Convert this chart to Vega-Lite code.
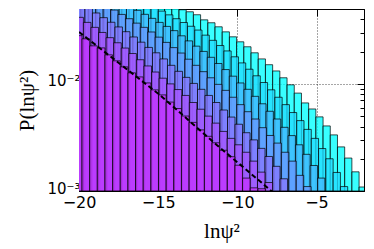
{
"$schema": "https://vega.github.io/schema/vega-lite/v6.json",
"width": 285, "height": 182,
"autosize": {"type": "none"},
"padding": {"left": 79, "top": 9, "right": 10, "bottom": 58},
"config": {"view": {"stroke": "#000", "strokeWidth": 1},
 "axis": {"labelFont": "DejaVu Sans", "labelFontSize": 16, "labelColor": "#000", "tickColor": "#000", "domainColor": "#000", "titleFont": "Liberation Serif", "titleFontSize": 21, "titleFontWeight": "normal", "titleColor": "#000", "labelFlush": false, "labelOverlap": false, "labelBound": false, "gridColor": "#000", "gridDash": [1, 2], "zindex": 1}},
"datasets": {
"bars": [
{"s":"c6","x0":-20.055,"x1":-19.6,"p":0.16},{"s":"c6","x0":-19.6,"x1":-19.145,"p":0.149},{"s":"c6","x0":-19.145,"x1":-18.69,"p":0.137},{"s":"c6","x0":-18.69,"x1":-18.235,"p":0.126},{"s":"c6","x0":-18.235,"x1":-17.78,"p":0.116},{"s":"c6","x0":-17.78,"x1":-17.325,"p":0.107},{"s":"c6","x0":-17.325,"x1":-16.87,"p":0.098},{"s":"c6","x0":-16.87,"x1":-16.415,"p":0.09},{"s":"c6","x0":-16.415,"x1":-15.96,"p":0.083},{"s":"c6","x0":-15.96,"x1":-15.505,"p":0.076},{"s":"c6","x0":-15.505,"x1":-15.05,"p":0.07},{"s":"c6","x0":-15.05,"x1":-14.595,"p":0.064},{"s":"c6","x0":-14.595,"x1":-14.14,"p":0.059},{"s":"c6","x0":-14.14,"x1":-13.685,"p":0.054},{"s":"c6","x0":-13.685,"x1":-13.23,"p":0.0492},{"s":"c6","x0":-13.23,"x1":-12.775,"p":0.0471},{"s":"c6","x0":-12.775,"x1":-12.32,"p":0.0442},{"s":"c6","x0":-12.32,"x1":-11.865,"p":0.0396},{"s":"c6","x0":-11.865,"x1":-11.41,"p":0.0372},{"s":"c6","x0":-11.41,"x1":-10.955,"p":0.0341},{"s":"c6","x0":-10.955,"x1":-10.5,"p":0.0306},{"s":"c6","x0":-10.5,"x1":-10.045,"p":0.0275},{"s":"c6","x0":-10.045,"x1":-9.59,"p":0.0247},{"s":"c6","x0":-9.59,"x1":-9.135,"p":0.0222},{"s":"c6","x0":-9.135,"x1":-8.68,"p":0.0195},{"s":"c6","x0":-8.68,"x1":-8.225,"p":0.0171},{"s":"c6","x0":-8.225,"x1":-7.77,"p":0.0151},{"s":"c6","x0":-7.77,"x1":-7.315,"p":0.0132},{"s":"c6","x0":-7.315,"x1":-6.86,"p":0.0114},{"s":"c6","x0":-6.86,"x1":-6.405,"p":0.0098},{"s":"c6","x0":-6.405,"x1":-5.95,"p":0.0082},{"s":"c6","x0":-5.95,"x1":-5.495,"p":0.00664},{"s":"c6","x0":-5.495,"x1":-5.04,"p":0.00583},{"s":"c6","x0":-5.04,"x1":-4.585,"p":0.00492},{"s":"c6","x0":-4.585,"x1":-4.13,"p":0.00405},{"s":"c6","x0":-4.13,"x1":-3.675,"p":0.00334},{"s":"c6","x0":-3.675,"x1":-3.22,"p":0.00258},{"s":"c6","x0":-3.22,"x1":-2.765,"p":0.00203},{"s":"c6","x0":-2.765,"x1":-2.31,"p":0.00151},{"s":"c6","x0":-2.31,"x1":-1.855,"p":0.00109},
{"s":"c5","x0":-20.05,"x1":-19.59,"p":0.151},{"s":"c5","x0":-19.59,"x1":-19.13,"p":0.136},{"s":"c5","x0":-19.13,"x1":-18.67,"p":0.122},{"s":"c5","x0":-18.67,"x1":-18.21,"p":0.11},{"s":"c5","x0":-18.21,"x1":-17.75,"p":0.0989},{"s":"c5","x0":-17.75,"x1":-17.29,"p":0.0889},{"s":"c5","x0":-17.29,"x1":-16.83,"p":0.08},{"s":"c5","x0":-16.83,"x1":-16.37,"p":0.0719},{"s":"c5","x0":-16.37,"x1":-15.91,"p":0.0647},{"s":"c5","x0":-15.91,"x1":-15.45,"p":0.0582},{"s":"c5","x0":-15.45,"x1":-14.99,"p":0.0524},{"s":"c5","x0":-14.99,"x1":-14.53,"p":0.0478},{"s":"c5","x0":-14.53,"x1":-14.07,"p":0.0441},{"s":"c5","x0":-14.07,"x1":-13.61,"p":0.0406},{"s":"c5","x0":-13.61,"x1":-13.15,"p":0.0374},{"s":"c5","x0":-13.15,"x1":-12.69,"p":0.0345},{"s":"c5","x0":-12.69,"x1":-12.23,"p":0.0318},{"s":"c5","x0":-12.23,"x1":-11.77,"p":0.0285},{"s":"c5","x0":-11.77,"x1":-11.31,"p":0.0255},{"s":"c5","x0":-11.31,"x1":-10.85,"p":0.0228},{"s":"c5","x0":-10.85,"x1":-10.39,"p":0.0203},{"s":"c5","x0":-10.39,"x1":-9.93,"p":0.0179},{"s":"c5","x0":-9.93,"x1":-9.47,"p":0.0157},{"s":"c5","x0":-9.47,"x1":-9.01,"p":0.0137},{"s":"c5","x0":-9.01,"x1":-8.55,"p":0.0119},{"s":"c5","x0":-8.55,"x1":-8.09,"p":0.0103},{"s":"c5","x0":-8.09,"x1":-7.63,"p":0.0088},{"s":"c5","x0":-7.63,"x1":-7.17,"p":0.0075},{"s":"c5","x0":-7.17,"x1":-6.71,"p":0.0064},{"s":"c5","x0":-6.71,"x1":-6.25,"p":0.0054},{"s":"c5","x0":-6.25,"x1":-5.79,"p":0.00454},{"s":"c5","x0":-5.79,"x1":-5.33,"p":0.00376},{"s":"c5","x0":-5.33,"x1":-4.87,"p":0.0031},{"s":"c5","x0":-4.87,"x1":-4.41,"p":0.00249},{"s":"c5","x0":-4.41,"x1":-3.95,"p":0.002},{"s":"c5","x0":-3.95,"x1":-3.49,"p":0.00149},{"s":"c5","x0":-3.49,"x1":-3.03,"p":0.0011},
{"s":"c4","x0":-20.25,"x1":-19.786,"p":0.1135},{"s":"c4","x0":-19.786,"x1":-19.322,"p":0.102},{"s":"c4","x0":-19.322,"x1":-18.858,"p":0.0916},{"s":"c4","x0":-18.858,"x1":-18.394,"p":0.0824},{"s":"c4","x0":-18.394,"x1":-17.93,"p":0.074},{"s":"c4","x0":-17.93,"x1":-17.466,"p":0.0665},{"s":"c4","x0":-17.466,"x1":-17.002,"p":0.0598},{"s":"c4","x0":-17.002,"x1":-16.538,"p":0.0537},{"s":"c4","x0":-16.538,"x1":-16.074,"p":0.0486},{"s":"c4","x0":-16.074,"x1":-15.61,"p":0.0446},{"s":"c4","x0":-15.61,"x1":-15.146,"p":0.0409},{"s":"c4","x0":-15.146,"x1":-14.682,"p":0.0375},{"s":"c4","x0":-14.682,"x1":-14.218,"p":0.0344},{"s":"c4","x0":-14.218,"x1":-13.754,"p":0.0314},{"s":"c4","x0":-13.754,"x1":-13.29,"p":0.0281},{"s":"c4","x0":-13.29,"x1":-12.826,"p":0.0252},{"s":"c4","x0":-12.826,"x1":-12.362,"p":0.0225},{"s":"c4","x0":-12.362,"x1":-11.898,"p":0.0201},{"s":"c4","x0":-11.898,"x1":-11.434,"p":0.0177},{"s":"c4","x0":-11.434,"x1":-10.97,"p":0.0155},{"s":"c4","x0":-10.97,"x1":-10.506,"p":0.0136},{"s":"c4","x0":-10.506,"x1":-10.042,"p":0.0118},{"s":"c4","x0":-10.042,"x1":-9.578,"p":0.0102},{"s":"c4","x0":-9.578,"x1":-9.114,"p":0.0089},{"s":"c4","x0":-9.114,"x1":-8.65,"p":0.00765},{"s":"c4","x0":-8.65,"x1":-8.186,"p":0.00652},{"s":"c4","x0":-8.186,"x1":-7.722,"p":0.00555},{"s":"c4","x0":-7.722,"x1":-7.258,"p":0.0047},{"s":"c4","x0":-7.258,"x1":-6.794,"p":0.00393},{"s":"c4","x0":-6.794,"x1":-6.33,"p":0.00329},{"s":"c4","x0":-6.33,"x1":-5.866,"p":0.0027},{"s":"c4","x0":-5.866,"x1":-5.402,"p":0.0022},{"s":"c4","x0":-5.402,"x1":-4.938,"p":0.00173},{"s":"c4","x0":-4.938,"x1":-4.474,"p":0.00132},
{"s":"c3","x0":-20.35,"x1":-19.881,"p":0.0835},{"s":"c3","x0":-19.881,"x1":-19.412,"p":0.075},{"s":"c3","x0":-19.412,"x1":-18.943,"p":0.0673},{"s":"c3","x0":-18.943,"x1":-18.474,"p":0.0604},{"s":"c3","x0":-18.474,"x1":-18.005,"p":0.0542},{"s":"c3","x0":-18.005,"x1":-17.536,"p":0.0489},{"s":"c3","x0":-17.536,"x1":-17.067,"p":0.0445},{"s":"c3","x0":-17.067,"x1":-16.598,"p":0.0406},{"s":"c3","x0":-16.598,"x1":-16.129,"p":0.0369},{"s":"c3","x0":-16.129,"x1":-15.66,"p":0.0337},{"s":"c3","x0":-15.66,"x1":-15.191,"p":0.0305},{"s":"c3","x0":-15.191,"x1":-14.722,"p":0.0273},{"s":"c3","x0":-14.722,"x1":-14.253,"p":0.0244},{"s":"c3","x0":-14.253,"x1":-13.784,"p":0.0218},{"s":"c3","x0":-13.784,"x1":-13.315,"p":0.0194},{"s":"c3","x0":-13.315,"x1":-12.846,"p":0.017},{"s":"c3","x0":-12.846,"x1":-12.377,"p":0.0149},{"s":"c3","x0":-12.377,"x1":-11.908,"p":0.013},{"s":"c3","x0":-11.908,"x1":-11.439,"p":0.0114},{"s":"c3","x0":-11.439,"x1":-10.97,"p":0.0099},{"s":"c3","x0":-10.97,"x1":-10.501,"p":0.0087},{"s":"c3","x0":-10.501,"x1":-10.032,"p":0.0075},{"s":"c3","x0":-10.032,"x1":-9.563,"p":0.0064},{"s":"c3","x0":-9.563,"x1":-9.094,"p":0.0055},{"s":"c3","x0":-9.094,"x1":-8.625,"p":0.0047},{"s":"c3","x0":-8.625,"x1":-8.156,"p":0.0039},{"s":"c3","x0":-8.156,"x1":-7.687,"p":0.0033},{"s":"c3","x0":-7.687,"x1":-7.218,"p":0.0028},{"s":"c3","x0":-7.218,"x1":-6.749,"p":0.0023},{"s":"c3","x0":-6.749,"x1":-6.28,"p":0.0019},{"s":"c3","x0":-6.28,"x1":-5.811,"p":0.0014},{"s":"c3","x0":-5.811,"x1":-5.342,"p":0.0011},
{"s":"c2","x0":-20.1,"x1":-19.626,"p":0.0566},{"s":"c2","x0":-19.626,"x1":-19.152,"p":0.0508},{"s":"c2","x0":-19.152,"x1":-18.678,"p":0.0459},{"s":"c2","x0":-18.678,"x1":-18.204,"p":0.0415},{"s":"c2","x0":-18.204,"x1":-17.73,"p":0.0376},{"s":"c2","x0":-17.73,"x1":-17.256,"p":0.034},{"s":"c2","x0":-17.256,"x1":-16.782,"p":0.0307},{"s":"c2","x0":-16.782,"x1":-16.308,"p":0.0274},{"s":"c2","x0":-16.308,"x1":-15.834,"p":0.0245},{"s":"c2","x0":-15.834,"x1":-15.36,"p":0.0219},{"s":"c2","x0":-15.36,"x1":-14.886,"p":0.0195},{"s":"c2","x0":-14.886,"x1":-14.412,"p":0.0171},{"s":"c2","x0":-14.412,"x1":-13.938,"p":0.0149},{"s":"c2","x0":-13.938,"x1":-13.464,"p":0.0131},{"s":"c2","x0":-13.464,"x1":-12.99,"p":0.0115},{"s":"c2","x0":-12.99,"x1":-12.516,"p":0.0101},{"s":"c2","x0":-12.516,"x1":-12.042,"p":0.0089},{"s":"c2","x0":-12.042,"x1":-11.568,"p":0.0078},{"s":"c2","x0":-11.568,"x1":-11.094,"p":0.0067},{"s":"c2","x0":-11.094,"x1":-10.62,"p":0.0057},{"s":"c2","x0":-10.62,"x1":-10.146,"p":0.0049},{"s":"c2","x0":-10.146,"x1":-9.672,"p":0.0042},{"s":"c2","x0":-9.672,"x1":-9.198,"p":0.0035},{"s":"c2","x0":-9.198,"x1":-8.724,"p":0.003},{"s":"c2","x0":-8.724,"x1":-8.25,"p":0.0025},{"s":"c2","x0":-8.25,"x1":-7.776,"p":0.0021},{"s":"c2","x0":-7.776,"x1":-7.302,"p":0.0017},{"s":"c2","x0":-7.302,"x1":-6.828,"p":0.0013},
{"s":"c1","x0":-20.2,"x1":-19.722,"p":0.0418},{"s":"c1","x0":-19.722,"x1":-19.244,"p":0.0375},{"s":"c1","x0":-19.244,"x1":-18.766,"p":0.0337},{"s":"c1","x0":-18.766,"x1":-18.288,"p":0.0302},{"s":"c1","x0":-18.288,"x1":-17.81,"p":0.027},{"s":"c1","x0":-17.81,"x1":-17.332,"p":0.0242},{"s":"c1","x0":-17.332,"x1":-16.854,"p":0.0216},{"s":"c1","x0":-16.854,"x1":-16.376,"p":0.0192},{"s":"c1","x0":-16.376,"x1":-15.898,"p":0.0168},{"s":"c1","x0":-15.898,"x1":-15.42,"p":0.0147},{"s":"c1","x0":-15.42,"x1":-14.942,"p":0.0129},{"s":"c1","x0":-14.942,"x1":-14.464,"p":0.0113},{"s":"c1","x0":-14.464,"x1":-13.986,"p":0.01},{"s":"c1","x0":-13.986,"x1":-13.508,"p":0.00885},{"s":"c1","x0":-13.508,"x1":-13.03,"p":0.0078},{"s":"c1","x0":-13.03,"x1":-12.552,"p":0.0067},{"s":"c1","x0":-12.552,"x1":-12.074,"p":0.0058},{"s":"c1","x0":-12.074,"x1":-11.596,"p":0.005},{"s":"c1","x0":-11.596,"x1":-11.118,"p":0.0043},{"s":"c1","x0":-11.118,"x1":-10.64,"p":0.0036},{"s":"c1","x0":-10.64,"x1":-10.162,"p":0.0031},{"s":"c1","x0":-10.162,"x1":-9.684,"p":0.0027},{"s":"c1","x0":-9.684,"x1":-9.206,"p":0.0023},{"s":"c1","x0":-9.206,"x1":-8.728,"p":0.0019},{"s":"c1","x0":-8.728,"x1":-8.25,"p":0.0015},{"s":"c1","x0":-8.25,"x1":-7.772,"p":0.0012},
{"s":"c0","x0":-20.293,"x1":-19.81,"p":0.0282},{"s":"c0","x0":-19.81,"x1":-19.327,"p":0.02636},{"s":"c0","x0":-19.327,"x1":-18.844,"p":0.02265},{"s":"c0","x0":-18.844,"x1":-18.361,"p":0.02168},{"s":"c0","x0":-18.361,"x1":-17.878,"p":0.01866},{"s":"c0","x0":-17.878,"x1":-17.395,"p":0.01641},{"s":"c0","x0":-17.395,"x1":-16.912,"p":0.01442},{"s":"c0","x0":-16.912,"x1":-16.429,"p":0.01268},{"s":"c0","x0":-16.429,"x1":-15.946,"p":0.01161},{"s":"c0","x0":-15.946,"x1":-15.463,"p":0.01021},{"s":"c0","x0":-15.463,"x1":-14.98,"p":0.00879},{"s":"c0","x0":-14.98,"x1":-14.497,"p":0.00789},{"s":"c0","x0":-14.497,"x1":-14.014,"p":0.00676},{"s":"c0","x0":-14.014,"x1":-13.531,"p":0.00589},{"s":"c0","x0":-13.531,"x1":-13.048,"p":0.00501},{"s":"c0","x0":-13.048,"x1":-12.565,"p":0.00437},{"s":"c0","x0":-12.565,"x1":-12.082,"p":0.00372},{"s":"c0","x0":-12.082,"x1":-11.599,"p":0.00324},{"s":"c0","x0":-11.599,"x1":-11.116,"p":0.00282},{"s":"c0","x0":-11.116,"x1":-10.633,"p":0.0024},{"s":"c0","x0":-10.633,"x1":-10.15,"p":0.00209},{"s":"c0","x0":-10.15,"x1":-9.667,"p":0.00174},{"s":"c0","x0":-9.667,"x1":-9.184,"p":0.00132},{"s":"c0","x0":-9.184,"x1":-8.701,"p":0.00107},{"s":"c0","x0":-8.701,"x1":-8.218,"p":0.00105}
],
"curve": [{"x":-20,"p":0.0305},{"x":-14.9,"p":0.00789},{"x":-11.3,"p":0.00269},{"x":-8.3,"p":0.00114},{"x":-7.5,"p":0.000904}]
},
"layer": [
{"data": {"name": "bars"},
 "mark": {"type": "rect", "clip": true, "fillOpacity": 0.78, "stroke": "#000", "strokeOpacity": 0.7, "strokeWidth": 1},
 "encoding": {
  "x": {"field": "x0", "type": "quantitative", "scale": {"domain": [-20, -2], "nice": false, "zero": false},
        "axis": {"orient": "bottom", "values": [-20, -15, -10, -5], "tickSize": -7, "labelPadding": 10, "grid": true, "gridOpacity": 0.7, "title": "lnψ²", "titlePadding": 10}},
  "x2": {"field": "x1"},
  "y": {"field": "p", "type": "quantitative", "scale": {"type": "log", "domain": [0.001, 0.05], "nice": false},
        "axis": {"orient": "left", "values": [0.001,0.002,0.003,0.004,0.005,0.006,0.007,0.008,0.009,0.01,0.02,0.03,0.04],
                 "labelExpr": "datum.value == 0.01 ? '10⁻²' : (datum.value == 0.001 ? '10⁻³' : '')",
                 "labelOffset": -3, "labelFontSize": 15,
                 "tickSize": {"condition": {"test": "datum.value == 0.01 || datum.value == 0.001", "value": -7}, "value": -4},
                 "grid": true,
                 "gridOpacity": {"condition": {"test": "datum.value == 0.01 || datum.value == 0.001", "value": 0.7}, "value": 0},
                 "labelPadding": 6, "title": "P(lnψ²)", "titlePadding": 9}},
  "y2": {"datum": 0.001},
  "color": {"field": "s", "type": "nominal", "scale": {"domain": ["c0","c1","c2","c3","c4","c5","c6"], "range": ["#c433ff","#a655ff","#8677ff","#6699ff","#44bbff","#22ddff","#00ffff"]}, "legend": null}
 }},
{"data": {"name": "curve"},
 "mark": {"type": "line", "clip": true, "color": "#000", "strokeWidth": 2, "strokeDash": [5, 3]},
 "encoding": {
  "x": {"field": "x", "type": "quantitative", "scale": {"domain": [-20, -2], "nice": false, "zero": false},
        "axis": {"orient": "top", "values": [-20, -15, -10, -5], "tickSize": -7, "labels": false, "grid": false, "title": null}},
  "y": {"field": "p", "type": "quantitative", "scale": {"type": "log", "domain": [0.001, 0.05], "nice": false},
        "axis": {"orient": "right", "values": [0.001,0.002,0.003,0.004,0.005,0.006,0.007,0.008,0.009,0.01,0.02,0.03,0.04],
                 "tickSize": {"condition": {"test": "datum.value == 0.01 || datum.value == 0.001", "value": -7}, "value": -4},
                 "labels": false, "grid": false, "title": null}}
 }}
],
"resolve": {"axis": {"x": "independent", "y": "independent"}}
}
